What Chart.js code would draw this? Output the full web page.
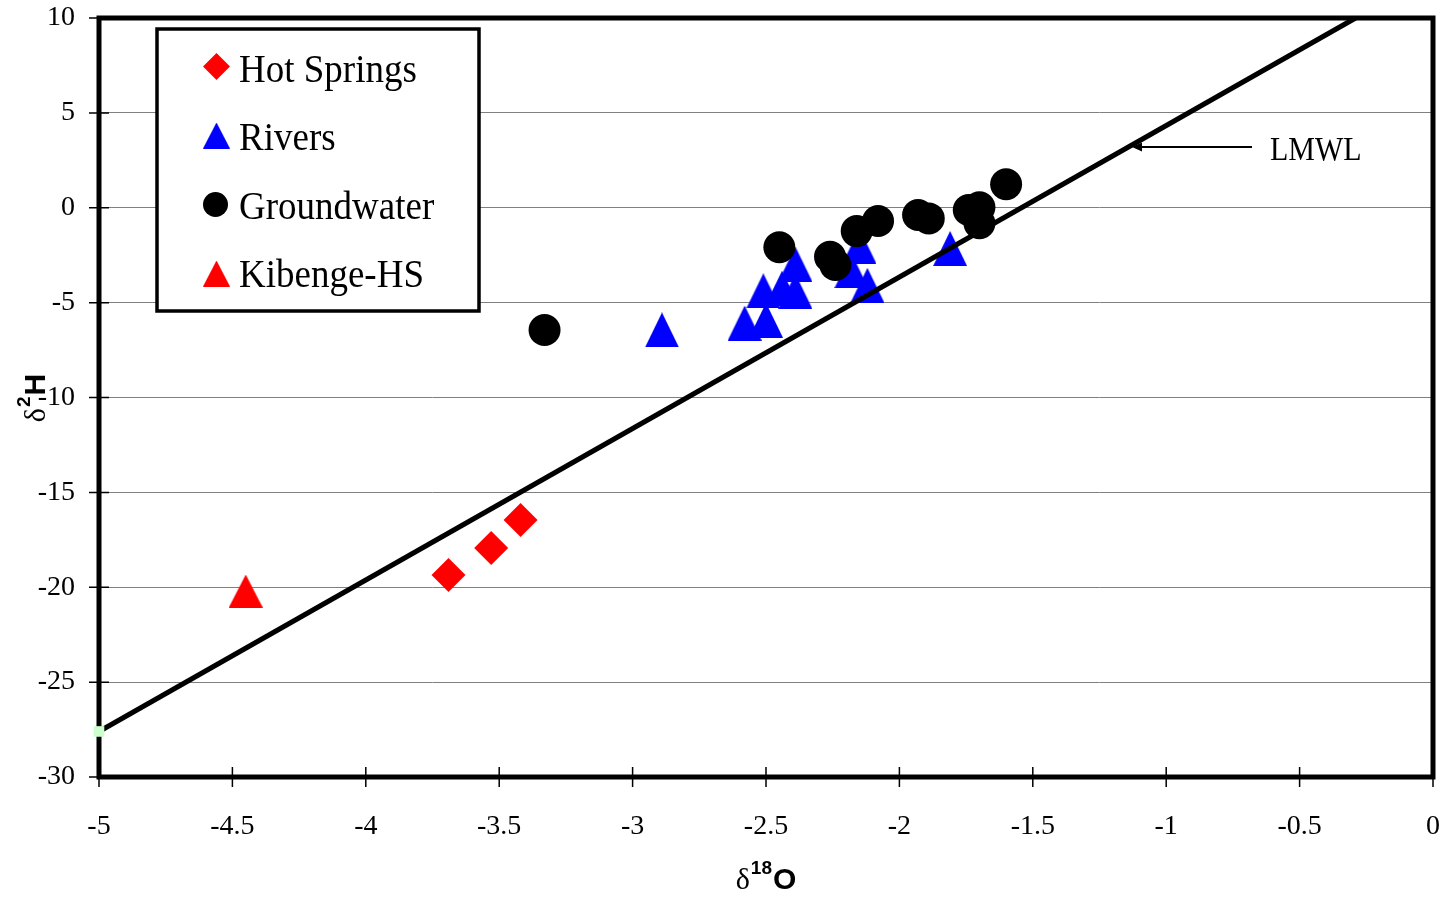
<!DOCTYPE html>
<html>
<head>
<meta charset="utf-8">
<script src="https://cdn.jsdelivr.net/npm/chart.js@4.4.0/dist/chart.umd.min.js"></script>
<style>
    html, body { margin: 0; padding: 0; background: #fff; }
</style>
</head>
<body>
<canvas id="isoChart" width="1447" height="897"></canvas>
<script>
// Valeurs (delta 18O, delta 2H)
const hotSpringsX = [-3.69, -3.53, -3.42];
const hotSpringsY = [-19.35, -17.93, -16.46];

const riversX = [-2.89, -2.58, -2.50, -2.51, -2.44, -2.39, -2.39, -2.15, -2.18, -2.12, -1.81];
const riversY = [-6.44, -6.08, -5.93, -4.38, -4.24, -2.97, -4.40, -2.02, -3.32, -4.09, -2.15];

const groundwaterX = [-3.33, -2.45, -2.26, -2.24, -2.16, -2.08, -1.93, -1.89, -1.74, -1.70, -1.70, -1.60];
const groundwaterY = [-6.44, -2.08, -2.58, -3.02, -1.23, -0.70, -0.38, -0.56, -0.12, 0.02, -0.82, 1.24];

const kibengeX = [-4.45];
const kibengeY = [-20.2];

// droite LMWL (extrémités lues)
const lmwlX = [-5, -0.29];
const lmwlY = [-27.6, 10];

const xTicks = [-5, -4.5, -4, -3.5, -3, -2.5, -2, -1.5, -1, -0.5, 0];
const xTickLabels = ['-5', '-4.5', '-4', '-3.5', '-3', '-2.5', '-2', '-1.5', '-1', '-0.5', '0'];
const yTicks = [-30, -25, -20, -15, -10, -5, 0, 5, 10];
const yTickLabels = ['-30', '-25', '-20', '-15', '-10', '-5', '0', '5', '10'];

const legendLabels = ['Hot Springs', 'Rivers', 'Groundwater', 'Kibenge-HS'];

function toPoints(xs, ys) {
    return xs.map((x, i) => ({ x: x, y: ys[i] }));
}

// triangle un peu plus haut que large, comme dans Excel
function triangleImage(color, w, h) {
    const c = document.createElement('canvas');
    c.width = w;
    c.height = h;
    const g = c.getContext('2d');
    g.fillStyle = color;
    g.beginPath();
    g.moveTo(w / 2, 0);
    g.lineTo(w, h);
    g.lineTo(0, h);
    g.closePath();
    g.fill();
    return c;
}

const blueTriangle = triangleImage('#0000ff', 34, 35);
const redTriangle = triangleImage('#ff0000', 34, 33);

// pas de marge automatique autour des axes
function noPadding(s) {
    s.paddingTop = 0;
    s.paddingBottom = 0;
    s.paddingLeft = 0;
    s.paddingRight = 0;
}

// cadre et graduations qui traversent l'axe
const framePlugin = {
    id: 'frame',
    beforeDatasetsDraw(chart) {
        const ctx = chart.ctx;
        const a = chart.chartArea;
        ctx.save();
        ctx.strokeStyle = '#000';
        ctx.lineWidth = 1.5;
        ctx.beginPath();
        xTicks.forEach(v => {
            const px = chart.scales.x.getPixelForValue(v);
            ctx.moveTo(px, a.bottom - 10);
            ctx.lineTo(px, a.bottom + 10);
        });
        yTicks.forEach(v => {
            const py = chart.scales.y.getPixelForValue(v);
            ctx.moveTo(a.left - 10, py);
            ctx.lineTo(a.left + 10, py);
        });
        ctx.stroke();
        ctx.lineWidth = 5;
        ctx.strokeRect(a.left, a.top, a.right - a.left, a.bottom - a.top);
        ctx.restore();
    },
    afterDraw(chart) {
        const ctx = chart.ctx;
        ctx.save();

        // légende
        ctx.fillStyle = '#fff';
        ctx.fillRect(157, 29, 322, 282);
        ctx.strokeStyle = '#000';
        ctx.lineWidth = 3.5;
        ctx.strokeRect(157, 29, 322, 282);

        ctx.fillStyle = '#ff0000';
        ctx.beginPath();
        ctx.moveTo(216.5, 53);
        ctx.lineTo(230, 66.5);
        ctx.lineTo(216.5, 80);
        ctx.lineTo(203, 66.5);
        ctx.closePath();
        ctx.fill();

        ctx.drawImage(triangleImage('#0000ff', 27, 26), 203, 122.5);

        ctx.fillStyle = '#000';
        ctx.beginPath();
        ctx.arc(215.5, 204.5, 12.5, 0, Math.PI * 2);
        ctx.fill();

        ctx.drawImage(triangleImage('#ff0000', 27, 26), 203, 260.5);

        const baselines = [82, 150, 219, 287];
        ctx.fillStyle = '#000';
        ctx.font = "37px 'Liberation Serif'";
        ctx.textBaseline = 'alphabetic';
        legendLabels.forEach((lab, i) => {
            ctx.save();
            ctx.translate(239, baselines[i]);
            ctx.scale(1, 1.1);
            ctx.fillText(lab, 0, 0);
            ctx.restore();
        });

        // annotation LMWL
        ctx.strokeStyle = '#000';
        ctx.lineWidth = 2;
        ctx.beginPath();
        ctx.moveTo(1252, 147);
        ctx.lineTo(1138, 147);
        ctx.stroke();
        ctx.beginPath();
        ctx.moveTo(1132, 147);
        ctx.lineTo(1142, 142.5);
        ctx.lineTo(1142, 151.5);
        ctx.closePath();
        ctx.fill();
        ctx.save();
        ctx.translate(1270, 160);
        ctx.scale(1, 1.15);
        ctx.font = "30px 'Liberation Serif'";
        ctx.fillText('LMWL', 0, 0);
        ctx.restore();

        // titre axe x : δ18O
        const sym = "30px 'Liberation Serif'";
        const big = "bold 30px 'Liberation Sans'";
        const small = "bold 19px 'Liberation Sans'";
        ctx.font = sym; const w1 = ctx.measureText('δ').width;
        ctx.font = small; const w2 = ctx.measureText('18').width;
        ctx.font = big; const w3 = ctx.measureText('O').width;
        let x0 = 766 - (w1 + w2 + w3 + 2) / 2;
        ctx.font = sym; ctx.fillText('δ', x0, 889);
        ctx.font = small; ctx.fillText('18', x0 + w1 + 1, 874);
        ctx.font = big; ctx.fillText('O', x0 + w1 + w2 + 2, 889);

        // titre axe y : δ2H
        ctx.save();
        ctx.translate(45, 398);
        ctx.rotate(-Math.PI / 2);
        ctx.font = sym; const v1 = ctx.measureText('δ').width;
        ctx.font = small; const v2 = ctx.measureText('2').width;
        ctx.font = big; const v3 = ctx.measureText('H').width;
        let y0 = -(v1 + v2 + v3 + 2) / 2;
        ctx.font = sym; ctx.fillText('δ', y0, 0);
        ctx.font = small; ctx.fillText('2', y0 + v1 + 1, -15);
        ctx.font = big; ctx.fillText('H', y0 + v1 + v2 + 2, 0);
        ctx.restore();

        ctx.restore();
    }
};

let ctx = document.getElementById('isoChart').getContext('2d');
let isoChart = new Chart(ctx, {
    type: 'scatter',
    data: {
        datasets: [
            {
                label: 'LMWL',
                data: toPoints(lmwlX, lmwlY),
                showLine: true,
                borderColor: '#000',
                borderWidth: 5,
                pointStyle: 'rect',
                pointRadius: [7.5, 0],
                pointBackgroundColor: '#ccffcc',
                pointBorderWidth: 0,
                clip: false,
                order: 0
            },
            {
                label: legendLabels[3],
                data: toPoints(kibengeX, kibengeY),
                pointStyle: redTriangle,
                pointRadius: 17,
                order: 1
            },
            {
                label: legendLabels[2],
                data: toPoints(groundwaterX, groundwaterY),
                pointStyle: 'circle',
                pointRadius: 16,
                pointBackgroundColor: '#000',
                pointBorderWidth: 0,
                order: 2
            },
            {
                label: legendLabels[1],
                data: toPoints(riversX, riversY),
                pointStyle: blueTriangle,
                pointRadius: 17,
                order: 3
            },
            {
                label: legendLabels[0],
                data: toPoints(hotSpringsX, hotSpringsY),
                pointStyle: 'rectRot',
                pointRadius: 17,
                pointBackgroundColor: '#ff0000',
                pointBorderWidth: 0,
                order: 4
            }
        ]
    },
    options: {
        responsive: false,
        animation: false,
        layout: {
            autoPadding: false,
            padding: { top: 18, right: 14, left: 0, bottom: 0 }
        },
        plugins: {
            legend: { display: false },
            tooltip: { enabled: false }
        },
        scales: {
            x: {
                type: 'linear',
                min: -5,
                max: 0,
                afterBuildTicks: s => { s.ticks = xTicks.map(v => ({ value: v })); },
                afterFit: s => { s.height = 120; noPadding(s); },
                border: { display: false },
                grid: {
                    drawOnChartArea: false,
                    drawTicks: true,
                    tickLength: 33,
                    tickColor: 'rgba(0,0,0,0)'
                },
                ticks: {
                    color: '#000',
                    font: { family: 'Liberation Serif', size: 28 },
                    padding: 0,
                    maxRotation: 0,
                    autoSkip: false,
                    callback: (v, i) => xTickLabels[i]
                }
            },
            y: {
                type: 'linear',
                min: -30,
                max: 10,
                afterBuildTicks: s => { s.ticks = yTicks.map(v => ({ value: v })); },
                afterFit: s => { s.width = 99; noPadding(s); },
                border: { display: false },
                grid: {
                    color: '#808080',
                    lineWidth: 1,
                    tickLength: 24,
                    tickColor: 'rgba(0,0,0,0)'
                },
                ticks: {
                    color: '#000',
                    font: { family: 'Liberation Serif', size: 28 },
                    padding: 0,
                    callback: (v, i) => yTickLabels[i]
                }
            }
        }
    },
    plugins: [framePlugin]
});
</script>
</body>
</html>
